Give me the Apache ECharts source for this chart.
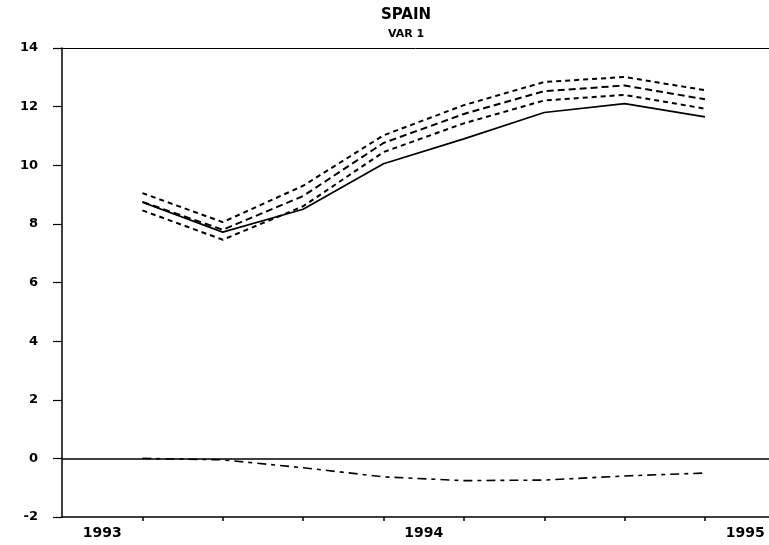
<!DOCTYPE html>
<html>
<head>
<meta charset="utf-8">
<script src="https://cdn.jsdelivr.net/npm/echarts@6/dist/echarts.min.js"></script>
<style>
  html, body { margin: 0; padding: 0; background: #fff; }
  #chart { width: 769px; height: 545px; }
</style>
</head>
<body>
<div id="chart"></div>
<script>
// Quarterly periods of the forecast run
const periods = ['1993Q2', '1993Q3', '1993Q4', '1994Q1', '1994Q2', '1994Q3', '1994Q4', '1995Q1'];
const yearLabels = ['1993', '1994', '1995'];
const yTicks = [-2, 0, 2, 4, 6, 8, 10, 12, 14];

// Observed values
const actual = [8.74, 7.72, 8.50, 10.05, 10.90, 11.80, 12.10, 11.65];
// Forecast and its band
const upperBand = [9.05, 8.06, 9.30, 11.02, 12.05, 12.84, 13.01, 12.56];
const forecast = [8.75, 7.80, 8.95, 10.76, 11.75, 12.53, 12.72, 12.25];
const lowerBand = [8.46, 7.46, 8.60, 10.45, 11.43, 12.21, 12.40, 11.93];
// Forecast error
const forecastError = [0.0, -0.05, -0.32, -0.63, -0.76, -0.74, -0.60, -0.50];

const startYear = Number(yearLabels[0]);
// position in quarters counted from the start of the first year
function quarterPos(p) {
  const y = Number(p.slice(0, 4));
  const q = Number(p.slice(5));
  return (y - startYear) * 4 + (q - 1);
}
const xs = periods.map(quarterPos);
const pairs = vals => vals.map((v, i) => [xs[i], v]);

const FONT = 'DejaVu Sans';
const chart = echarts.init(document.getElementById('chart'), null, { renderer: 'canvas' });

function lineSeries(name, vals, type, width) {
  return {
    name, type: 'line', data: pairs(vals), symbol: 'none', silent: true,
    lineStyle: { color: '#000', width, type }, z: 3
  };
}

const errSeries = lineSeries('error', forecastError, [9, 5, 4, 5], 1.6);
errSeries.markLine = {
  silent: true, symbol: 'none', label: { show: false },
  lineStyle: { color: '#000', type: 'solid', width: 1.5 },
  data: [{ yAxis: 0 }]
};

chart.setOption({
  animation: false,
  backgroundColor: '#fff',
  title: {
    text: 'SPAIN', subtext: 'VAR 1',
    left: 401, top: 3, textAlign: 'center', itemGap: 6,
    textStyle: { fontFamily: FONT, fontWeight: 'bold', fontSize: 15, color: '#000' },
    subtextStyle: { fontFamily: FONT, fontWeight: 'bold', fontSize: 11, color: '#000' }
  },
  grid: { left: 62, right: 0, top: 48, bottom: 28 },
  xAxis: [{
    type: 'value', min: 0, max: 707 / 80.375,
    axisLine: { show: true, onZero: false, lineStyle: { color: '#000', width: 1.5 } },
    axisTick: { show: true, length: 4, lineStyle: { color: '#000', width: 1.5 },
      customValues: xs },
    axisLabel: {
      margin: 9, color: '#000', fontFamily: FONT, fontWeight: 'bold', fontSize: 14,
      customValues: yearLabels.map((y, i) => i * 4 + 0.5),
      formatter: v => yearLabels[Math.round((v - 0.5) / 4)]
    },
    splitLine: { show: false }
  }, {
    type: 'value', position: 'top', min: 0, max: 707 / 80.375,
    axisLine: { show: true, onZero: false, lineStyle: { color: '#000', width: 1 } },
    axisTick: { show: false }, axisLabel: { show: false }, splitLine: { show: false }
  }],
  yAxis: {
    type: 'value', min: yTicks[0], max: yTicks[yTicks.length - 1], interval: 2,
    axisLine: { show: true, onZero: false, lineStyle: { color: '#000', width: 1.5 } },
    axisTick: { show: true, length: 9, lineStyle: { color: '#000', width: 1.2 } },
    axisLabel: { margin: 24, color: '#000', fontFamily: FONT, fontWeight: 'bold', fontSize: 13 },
    splitLine: { show: false }
  },
  series: [
    lineSeries('upper', upperBand, [5, 4], 2),
    lineSeries('forecast', forecast, [7, 4], 2),
    lineSeries('lower', lowerBand, [5, 4], 2),
    lineSeries('actual', actual, 'solid', 1.7),
    errSeries
  ]
});
</script>
</body>
</html>
